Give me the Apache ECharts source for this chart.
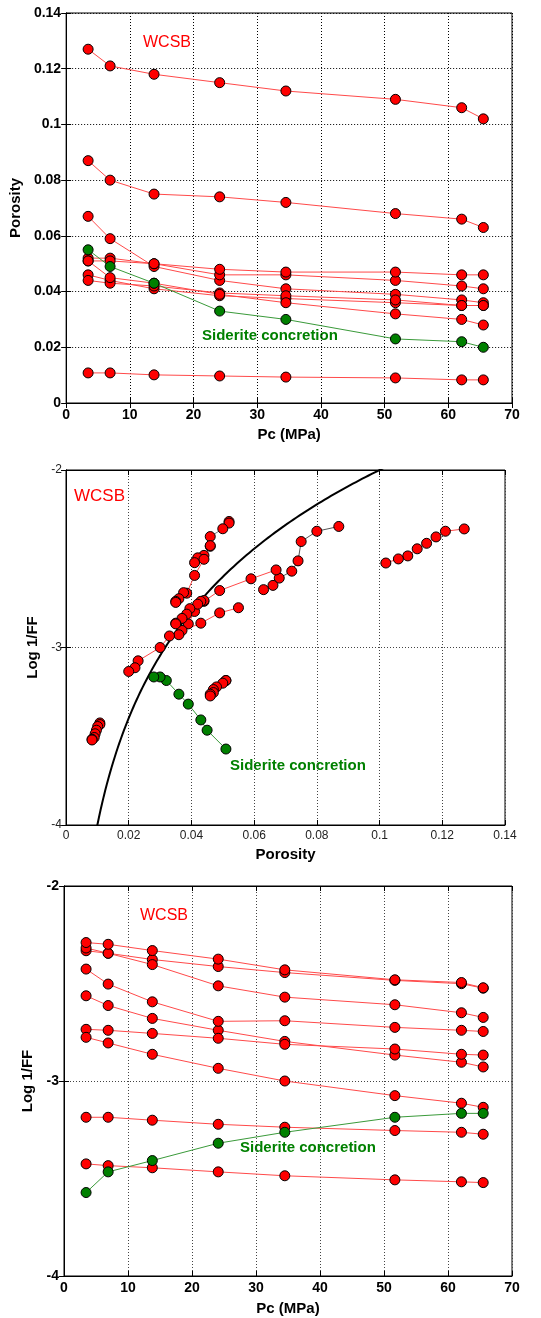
<!DOCTYPE html>
<html>
<head>
<meta charset="utf-8">
<script src="https://cdn.jsdelivr.net/npm/echarts@6/dist/echarts.min.js"></script>
<style>
  html, body { margin: 0; padding: 0; background: #fff; }
  #chart { width: 541px; height: 1318px; }
</style>
</head>
<body>
<div id="chart"></div>
<script>
// Confining pressure steps (MPa), shared by every core plug
const pcMPa = [3.45, 6.9, 13.8, 24.1, 34.5, 51.7, 62.1, 65.5];

// Porosity (fraction) at each pressure step
const phiS1  = [0.127, 0.121, 0.118, 0.115, 0.112, 0.109, 0.106, 0.102];
const phiS2  = [0.087, 0.080, 0.075, 0.074, 0.072, 0.068, 0.066, 0.063];
const phiS3  = [0.067, 0.059, 0.049, 0.044, 0.041, 0.039, 0.037, 0.036];
const phiS4  = [0.052, 0.052, 0.050, 0.046, 0.046, 0.044, 0.042, 0.041];
const phiS5  = [0.051, 0.051, 0.050, 0.048, 0.047, 0.047, 0.046, 0.046];
const phiS6  = [0.046, 0.044, 0.041, 0.0385, 0.0375, 0.036, 0.035, 0.035];
const phiS7  = [0.044, 0.043, 0.042, 0.0395, 0.0385, 0.037, 0.035, 0.035];
const phiS8  = [0.051, 0.045, 0.043, 0.039, 0.036, 0.032, 0.030, 0.028];
const phiS9  = [0.055, 0.049, 0.043, 0.033, 0.030, 0.023, 0.022, 0.020];
const phiS10 = [0.0108, 0.0108, 0.0101, 0.0097, 0.0093, 0.0090, 0.0083, 0.0083];

// log10(1/FF) at each pressure step
const ffS1  = [-2.332, -2.345, -2.377, -2.413, -2.444, -2.484, -2.501, -2.524];
const ffS2  = [-2.318, -2.345, -2.403, -2.512, -2.570, -2.609, -2.650, -2.674];
const ffS3  = [-2.563, -2.613, -2.679, -2.740, -2.797, -2.867, -2.904, -2.928];
const ffS4  = [-2.290, -2.299, -2.331, -2.375, -2.430, -2.481, -2.495, -2.522];
const ffS5  = [-3.186, -3.186, -3.201, -3.222, -3.237, -3.254, -3.263, -3.273];
const ffS6  = [-2.426, -2.503, -2.594, -2.694, -2.691, -2.725, -2.740, -2.746];
const ffS7  = [-2.735, -2.740, -2.756, -2.781, -2.812, -2.836, -2.863, -2.867];
const ffS8  = [-3.572, -3.466, -3.408, -3.319, -3.263, -3.186, -3.166, -3.166];
const ffS9  = [-2.776, -2.805, -2.863, -2.935, -3.000, -3.075, -3.114, -3.135];
const ffS10 = [-3.425, -3.434, -3.445, -3.466, -3.486, -3.507, -3.517, -3.521];

// Axis tick settings
const pcTicks  = { min: 0, max: 70, interval: 10 };
const phiTicks = { min: 0, max: 0.14, interval: 0.02 };
const ffTicks  = { min: -4, max: -2, interval: 1 };

// Archie cementation exponent for the reference curve (a = 1)
const archieM = 2;

const RED = '#ff0000', RED_LINE = '#ff4a4a';
const GREEN = '#008000', GREEN_LINE = '#3a9a3a';

// Plug list: which porosity / resistivity records belong together and how each is coloured
const samples = [
  { id: 'S1',  phi: phiS1,  ff: ffS1,  phiSid: false, ffSid: false, crossLine: RED_LINE },
  { id: 'S2',  phi: phiS2,  ff: ffS2,  phiSid: false, ffSid: false, crossLine: '#555555' },
  { id: 'S3',  phi: phiS3,  ff: ffS3,  phiSid: false, ffSid: false, crossLine: RED_LINE },
  { id: 'S4',  phi: phiS4,  ff: ffS4,  phiSid: false, ffSid: false, crossLine: '#777777' },
  { id: 'S5',  phi: phiS5,  ff: ffS5,  phiSid: false, ffSid: false, crossLine: RED_LINE },
  { id: 'S6',  phi: phiS6,  ff: ffS6,  phiSid: false, ffSid: false, crossLine: RED_LINE },
  { id: 'S7',  phi: phiS7,  ff: ffS7,  phiSid: false, ffSid: false, crossLine: RED_LINE },
  { id: 'S9',  phi: phiS9,  ff: ffS9,  phiSid: true,  ffSid: false, crossLine: RED_LINE },
  { id: 'S10', phi: phiS10, ff: ffS10, phiSid: false, ffSid: false, crossLine: RED_LINE },
  { id: 'S8',  phi: phiS8,  ff: ffS8,  phiSid: false, ffSid: true,  crossLine: GREEN_LINE }
];

const FONT = '"Liberation Sans", Arial, Helvetica, sans-serif';

function markerSeries(name, data, xi, yi, sid, lineColor) {
  return {
    name: name,
    type: 'line',
    xAxisIndex: xi,
    yAxisIndex: yi,
    data: data,
    symbol: 'circle',
    symbolSize: 10,
    showSymbol: true,
    clip: true,
    itemStyle: { color: sid ? GREEN : RED, borderColor: '#000', borderWidth: 1 },
    lineStyle: { color: lineColor || (sid ? GREEN_LINE : RED_LINE), width: 1 },
    emphasis: { disabled: true },
    z: sid ? 4 : 3
  };
}

function order(list, key) {
  // siderite records are drawn last so they sit on top
  return list.filter(s => !s[key]).concat(list.filter(s => s[key]));
}

const series = [];
order(samples, 'phiSid').forEach(s => {
  series.push(markerSeries(s.id + ' porosity', s.phi.map((v, i) => [pcMPa[i], v]), 0, 0, s.phiSid));
});
order(samples, 'ffSid').forEach(s => {
  series.push(markerSeries(s.id + ' cross', s.phi.map((v, i) => [v, s.ff[i]]), 2, 2, s.ffSid, s.crossLine));
});
order(samples, 'ffSid').forEach(s => {
  series.push(markerSeries(s.id + ' log1/FF', s.ff.map((v, i) => [pcMPa[i], v]), 4, 4, s.ffSid));
});

// Archie reference line: log10(1/FF) = m * log10(phi)
const archie = [];
for (let p = 0.0095; p <= 0.1105; p += 0.0005) archie.push([p, archieM * Math.log10(p)]);
series.push({
  name: 'Archie m=2', type: 'line', xAxisIndex: 2, yAxisIndex: 2, data: archie,
  showSymbol: false, smooth: false, clip: true,
  lineStyle: { color: '#000', width: 2 }, z: 2, emphasis: { disabled: true }
});

function mainAxis(grid, pos, ticks, label, name, nameGap, gridColor, bold, labelSize) {
  const vertical = (pos === 'left');
  return Object.assign({
    type: 'value', gridIndex: grid, position: pos,
    name: name, nameLocation: 'middle', nameGap: nameGap,
    nameRotate: vertical ? 90 : 0,
    nameTextStyle: { fontFamily: FONT, fontWeight: 'bold', fontSize: 15, color: '#000' },
    axisLine: { show: true, lineStyle: { color: '#000', width: 1 } },
    axisTick: { show: true, inside: true, length: 5, lineStyle: { color: '#000' } },
    axisLabel: Object.assign({
      show: true, fontFamily: FONT, fontSize: labelSize, fontWeight: bold ? 'bold' : 'normal',
      color: '#000', margin: 5, showMinLabel: true, showMaxLabel: true
    }, label || {}),
    splitLine: { show: true, lineStyle: { color: gridColor, type: [1, 2], width: 1 } }
  }, ticks);
}

function mirrorAxis(grid, pos, ticks) {
  return Object.assign({
    type: 'value', gridIndex: grid, position: pos,
    axisLine: { show: true, lineStyle: { color: '#000', width: 1 } },
    axisTick: { show: true, inside: true, length: 5, lineStyle: { color: '#000' } },
    axisLabel: { show: false },
    splitLine: { show: false }
  }, ticks);
}

const option = {
  animation: false,
  backgroundColor: '#fff',
  grid: [
    { left: 66, top: 13, width: 446, height: 390, show: true, borderColor: '#000', borderWidth: 1, backgroundColor: 'transparent' },
    { left: 66, top: 470, width: 439, height: 355, show: true, borderColor: '#000', borderWidth: 1, backgroundColor: 'transparent' },
    { left: 64, top: 886, width: 448, height: 390, show: true, borderColor: '#000', borderWidth: 1, backgroundColor: 'transparent' }
  ],
  xAxis: [
    mainAxis(0, 'bottom', pcTicks, null, 'Pc (MPa)', 24, '#000', true, 14),
    mirrorAxis(0, 'top', pcTicks),
    mainAxis(1, 'bottom', phiTicks, { color: '#222' }, 'Porosity', 22, '#444', false, 12),
    mirrorAxis(1, 'top', phiTicks),
    mainAxis(2, 'bottom', pcTicks, null, 'Pc (MPa)', 25, '#444', true, 14),
    mirrorAxis(2, 'top', pcTicks)
  ],
  yAxis: [
    mainAxis(0, 'left', phiTicks, null, 'Porosity', 41, '#000', true, 14),
    mirrorAxis(0, 'right', phiTicks),
    mainAxis(1, 'left', ffTicks, { color: '#222', margin: 4 }, 'Log 1/FF', 23, '#444', false, 12),
    mirrorAxis(1, 'right', ffTicks),
    mainAxis(2, 'left', ffTicks, null, 'Log 1/FF', 26, '#444', true, 14),
    mirrorAxis(2, 'right', ffTicks)
  ],
  graphic: [
    { type: 'text', left: 143, top: 35, style: { text: 'WCSB', fill: RED, font: '16px ' + FONT } },
    { type: 'text', left: 202, top: 328, style: { text: 'Siderite concretion', fill: GREEN, font: 'bold 15px ' + FONT } },
    { type: 'text', left: 74, top: 488, style: { text: 'WCSB', fill: RED, font: '17px ' + FONT } },
    { type: 'text', left: 230, top: 758, style: { text: 'Siderite concretion', fill: GREEN, font: 'bold 15px ' + FONT } },
    { type: 'text', left: 140, top: 908, style: { text: 'WCSB', fill: RED, font: '16px ' + FONT } },
    { type: 'text', left: 240, top: 1140, style: { text: 'Siderite concretion', fill: GREEN, font: 'bold 15px ' + FONT } }
  ],
  series: series
};

const chart = echarts.init(document.getElementById('chart'), null, { renderer: 'canvas' });
chart.setOption(option);
</script>
</body>
</html>
